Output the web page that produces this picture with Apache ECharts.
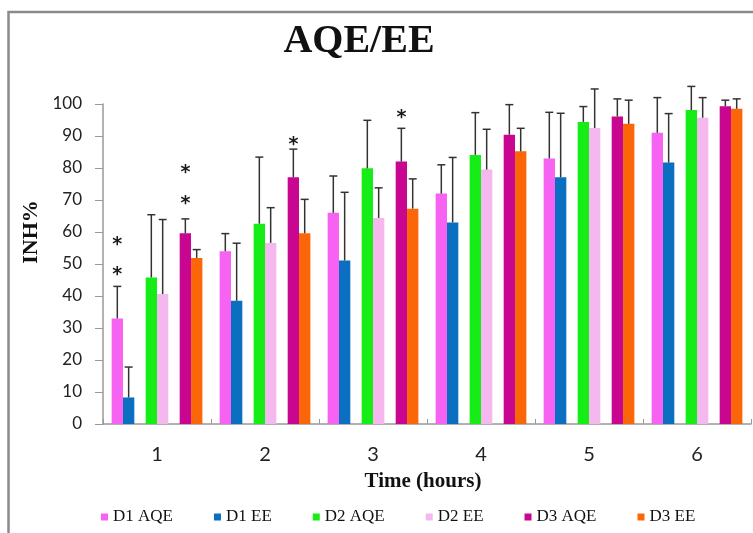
<!DOCTYPE html>
<html>
<head>
<meta charset="utf-8">
<script src="https://cdn.jsdelivr.net/npm/echarts@6/dist/echarts.min.js"></script>
<style>html,body{margin:0;padding:0;background:#fff;}#c{width:753px;height:533px;}</style>
</head>
<body>
<div id="c"></div>
<script>
var categories = ['1', '2', '3', '4', '5', '6'];
var seriesNames = ['D1 AQE', 'D1 EE', 'D2 AQE', 'D2 EE', 'D3 AQE', 'D3 EE'];
var seriesColors = ['#f662f2', '#0a6fc0', '#16ec16', '#f5b8ee', '#c8068f', '#fb6608'];
var d1AQE = [33, 54, 66, 72, 83, 91];
var d1EE = [8.3, 38.5, 51.1, 63, 77.1, 81.7];
var d2AQE = [45.8, 62.6, 79.9, 84.1, 94.4, 98.1];
var d2EE = [40.6, 56.6, 64.4, 79.5, 92.5, 95.7];
var d3AQE = [59.6, 77.1, 82, 90.4, 96.1, 99.3];
var d3EE = [51.9, 59.6, 67.3, 85.2, 93.8, 98.5];
var d1AQEErr = [10, 5.5, 11.5, 9, 14.4, 11];
var d1EEErr = [9.5, 18, 21.3, 20.3, 20, 15.3];
var d2AQEErr = [19.6, 20.8, 15, 13.2, 4.8, 7.4];
var d2EEErr = [23.3, 11, 9.4, 12.6, 12.2, 6.3];
var d3AQEErr = [4.5, 8.8, 10.4, 9.4, 5.5, 1.9];
var d3EEErr = [2.6, 10.6, 9.3, 7.2, 7.4, 3.1];
var yTicks = [0, 10, 20, 30, 40, 50, 60, 70, 80, 90, 100];
// significance asterisks: category index, series index, y value
var starCats = [0, 0, 0, 0, 1, 2];
var starSeries = [0, 0, 4, 4, 4, 4];
var starValues = [48.1, 57.6, 70.4, 80.1, 88.6, 97.1];

var values = [d1AQE, d1EE, d2AQE, d2EE, d3AQE, d3EE];
var errs = [d1AQEErr, d1EEErr, d2AQEErr, d2EEErr, d3AQEErr, d3EEErr];
// bar slots: pairs separated by an empty slot
var slotOf = [0, 1, 3, 4, 6, 7];
var NSLOT = 8;
var CAT_GAP = 0.16;

var series = [];
var slotSeries = [];
for (var s = 0; s < NSLOT; s++) slotSeries.push(null);
for (var i = 0; i < 6; i++) slotSeries[slotOf[i]] = i;
slotSeries.forEach(function (si, slot) {
  if (si === null) {
    series.push({ type: 'bar', name: '_gap' + slot, data: categories.map(function () { return null; }),
      barGap: 0, barCategoryGap: (CAT_GAP * 100) + '%', silent: true });
  } else {
    series.push({ type: 'bar', name: seriesNames[si], data: values[si],
      itemStyle: { color: seriesColors[si] }, barGap: 0, barCategoryGap: (CAT_GAP * 100) + '%' });
  }
});

function slotX(api, cat, val, slot) {
  var c = api.coord([cat, val]);
  var band = api.size([1, 0])[0];
  var total = band * (1 - CAT_GAP);
  var bw = total / NSLOT;
  return [c[0] - total / 2 + (slot + 0.5) * bw, c[1]];
}

var errData = [];
for (var i = 0; i < 6; i++) {
  for (var k = 0; k < categories.length; k++) {
    errData.push([k, values[i][k], values[i][k] + errs[i][k], slotOf[i]]);
  }
}
series.push({
  type: 'custom', name: 'err', silent: true, clip: false, z: 5,
  data: errData,
  renderItem: function (params, api) {
    var cat = api.value(0), v = api.value(1), top = api.value(2), slot = api.value(3);
    var p0 = slotX(api, cat, v, slot);
    var p1 = slotX(api, cat, top, slot);
    var st = { stroke: '#333', lineWidth: 1.5 };
    return { type: 'group', children: [
      { type: 'line', shape: { x1: p0[0], y1: p0[1], x2: p1[0], y2: p1[1] }, style: st },
      { type: 'line', shape: { x1: p1[0] - 4, y1: p1[1], x2: p1[0] + 4, y2: p1[1] }, style: st }
    ]};
  }
});

var starData = starCats.map(function (c, j) { return [c, starValues[j], slotOf[starSeries[j]]]; });
series.push({
  type: 'custom', name: 'stars', silent: true, clip: false, z: 6,
  data: starData,
  renderItem: function (params, api) {
    var p = slotX(api, api.value(0), api.value(1), api.value(2));
    return { type: 'text', x: p[0], y: p[1] + 5, style: { text: '*', fontFamily: 'DejaVu Sans', fontWeight: 'bold', fontSize: 19,
      fill: '#1a1a1a', align: 'center', verticalAlign: 'middle' } };
  }
});

var chart = echarts.init(document.getElementById('c'), null, { renderer: 'canvas' });
chart.setOption({
  backgroundColor: '#fff',
  animation: false,
  grid: { left: 103, right: 2, top: 104, bottom: 109, containLabel: false },
  legend: {
    data: seriesNames, left: 101, top: 508, padding: 0, icon: 'rect', itemWidth: 7, itemHeight: 7, itemGap: 41,
    textStyle: { fontFamily: 'Liberation Serif', fontSize: 17, color: '#111', lineHeight: 18 },
    selectedMode: false
  },
  xAxis: {
    type: 'category', data: categories,
    axisLine: { lineStyle: { color: '#999', width: 1.5 } },
    axisTick: { show: true, inside: true, length: 5, alignWithLabel: false, lineStyle: { color: '#999' } },
    axisLabel: { fontFamily: 'Lato', fontSize: 20, color: '#222', margin: 21, lineHeight: 20 }
  },
  yAxis: {
    type: 'value', min: 0, max: 100, interval: 10,
    axisLine: { show: true, lineStyle: { color: '#999', width: 1.5 } },
    axisTick: { show: true, length: 8, lineStyle: { color: '#999' } },
    splitLine: { show: false },
    axisLabel: { fontFamily: 'Lato', fontSize: 17, color: '#222', margin: 21,
      formatter: function (v) { return yTicks.indexOf(v) >= 0 ? String(v) : ''; } }
  },
  graphic: [
    { type: 'rect', shape: { x: 8.5, y: 12, width: 900, height: 700 }, style: { fill: 'none', stroke: '#8a8a8a', lineWidth: 2.5 }, z: 100 },
    { type: 'text', x: 359, y: 42, style: { text: 'AQE/EE', fontFamily: 'Liberation Serif', fontWeight: 'bold', fontSize: 40, fill: '#111', align: 'center', verticalAlign: 'middle' } },
    { type: 'text', x: 31, y: 232, rotation: Math.PI / 2, style: { text: 'INH%', fontFamily: 'Liberation Serif', fontWeight: 'bold', fontSize: 22, fill: '#111', align: 'center', verticalAlign: 'middle' } },
    { type: 'text', x: 423, y: 482, style: { text: 'Time (hours)', fontFamily: 'Liberation Serif', fontWeight: 'bold', fontSize: 21, fill: '#111', align: 'center', verticalAlign: 'middle' } }
  ],
  series: series
});
</script>
</body>
</html>
